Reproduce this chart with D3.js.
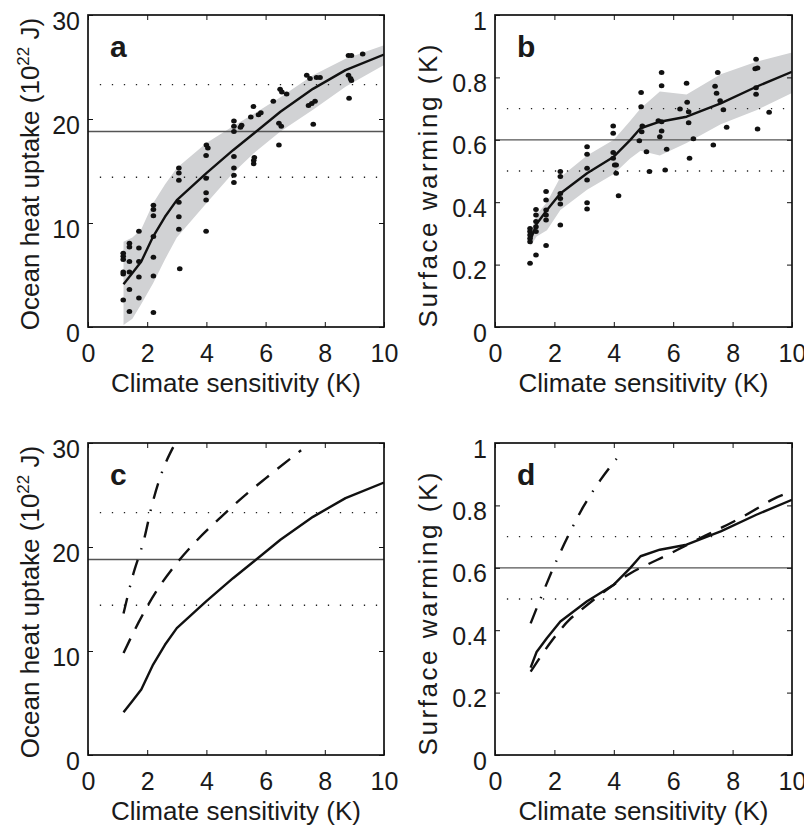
<!DOCTYPE html>
<html>
<head>
<meta charset="utf-8">
<script src="https://cdn.jsdelivr.net/npm/d3@7"></script>
<style>
  body { margin: 0; background: #fff; }
  text { font-family: "Liberation Sans", Arial, Helvetica, sans-serif; fill: #1a1a1a; }
</style>
</head>
<body>
<svg id="fig" width="804" height="825"></svg>
<script>
// tick labels
var xTicks = [0, 2, 4, 6, 8, 10];
var heatTicks = [0, 10, 20, 30];
var warmTicks = [0, 0.2, 0.4, 0.6, 0.8, 1];

// observed value (solid) and its range (dotted)
var heatObs = 18.8, heatObsRange = [14.4, 23.3];
var warmObs = 0.6, warmObsRange = [0.5, 0.7];

// ocean heat uptake: ensemble mean and spread (panels a, c)
var heatX     = [1.2, 1.5, 1.8, 2.2, 2.6, 3.0, 4.0, 4.9, 5.6, 6.5, 7.6, 8.7, 10];
var heatMean  = [4.1, 5.2, 6.3, 8.7, 10.6, 12.2, 14.8, 17.0, 18.6, 20.7, 22.9, 24.7, 26.2];
var heatUpper = [8.2, 8.6, 9.4, 11.9, 13.7, 15.3, 17.7, 19.3, 20.5, 22.1, 24.2, 25.8, 27.1];
var heatLower = [0.2, 0.8, 2.2, 4.2, 6.5, 8.6, 11.9, 14.8, 16.7, 18.8, 20.9, 23.1, 25.2];

// surface warming: ensemble mean and spread (panels b, d)
var warmX     = [1.2, 1.4, 1.75, 2.2, 3.1, 4.0, 4.55, 4.9, 5.55, 6.45, 7.6, 8.8, 10];
var warmMean  = [0.28, 0.33, 0.375, 0.428, 0.493, 0.546, 0.599, 0.637, 0.658, 0.674, 0.717, 0.770, 0.818];
var warmUpper = [0.30, 0.36, 0.40, 0.48, 0.55, 0.60, 0.66, 0.70, 0.755, 0.745, 0.81, 0.85, 0.88];
var warmLower = [0.26, 0.29, 0.31, 0.375, 0.44, 0.49, 0.54, 0.565, 0.55, 0.59, 0.65, 0.695, 0.75];

// individual runs
var heatDots = [
  [1.19, 7.1], [1.19, 6.8], [1.19, 6.5], [1.19, 5.3], [1.19, 5.1], [1.19, 2.6],
  [1.40, 8.05], [1.40, 7.7], [1.40, 6.3], [1.40, 5.3], [1.40, 3.6], [1.40, 1.5],
  [1.72, 9.2], [1.72, 7.6], [1.72, 6.3], [1.72, 4.8], [1.72, 2.8],
  [2.21, 11.7], [2.21, 11.3], [2.21, 10.7], [2.21, 8.7], [2.21, 6.7], [2.21, 4.9], [2.21, 1.4],
  [3.07, 15.3], [3.07, 14.8], [3.07, 14.1], [3.07, 12.0], [3.07, 10.6], [3.07, 9.4], [3.1, 5.6],
  [4.0, 17.5], [4.05, 17.2], [3.99, 16.5], [3.99, 14.3], [3.99, 12.9], [3.99, 12.2], [3.99, 9.2],
  [4.93, 19.8], [4.93, 19.3], [4.93, 18.8], [4.93, 16.4], [4.93, 15.3], [4.93, 14.6], [4.93, 13.9],
  [5.19, 19.4], [5.15, 19.2],
  [5.59, 21.2], [5.5, 20.2], [5.76, 20.4], [5.84, 20.6], [5.62, 16.3], [5.6, 16.0], [5.6, 15.7],
  [6.26, 21.7], [6.49, 22.85], [6.55, 22.6], [6.71, 22.4], [6.45, 19.6], [6.53, 19.3], [6.45, 17.5],
  [7.39, 24.2], [7.5, 23.9], [7.72, 24.0], [7.84, 24.0], [7.45, 21.3], [7.56, 21.5], [7.67, 21.7], [7.61, 19.5],
  [8.8, 26.1], [8.9, 26.1], [8.8, 24.2], [8.87, 23.9], [8.9, 23.7], [8.82, 22.0],
  [9.28, 26.25]
];
var warmDots = [
  [1.18, 0.316], [1.18, 0.306], [1.18, 0.295], [1.18, 0.284], [1.18, 0.273], [1.18, 0.204],
  [1.38, 0.377], [1.38, 0.359], [1.38, 0.338], [1.38, 0.321], [1.38, 0.306], [1.38, 0.231],
  [1.72, 0.434], [1.72, 0.407], [1.72, 0.375], [1.72, 0.359], [1.72, 0.343], [1.72, 0.261],
  [2.2, 0.498], [2.2, 0.482], [2.2, 0.428], [2.2, 0.412], [2.2, 0.394], [2.2, 0.327],
  [3.1, 0.578], [3.1, 0.554], [3.1, 0.509], [3.1, 0.471], [3.1, 0.398], [3.1, 0.378],
  [3.98, 0.644], [3.98, 0.621], [3.98, 0.559], [3.98, 0.541], [4.03, 0.519], [4.08, 0.519], [4.08, 0.493], [4.16, 0.421],
  [4.92, 0.752], [4.92, 0.706], [4.96, 0.644], [4.94, 0.626], [4.86, 0.597], [5.1, 0.562], [5.2, 0.498],
  [5.61, 0.816], [5.61, 0.773], [5.5, 0.661], [5.61, 0.658], [5.61, 0.628], [5.55, 0.610], [5.78, 0.570], [5.73, 0.503],
  [6.23, 0.699], [6.45, 0.781], [6.47, 0.720], [6.52, 0.690], [6.52, 0.655], [6.68, 0.603], [6.55, 0.541],
  [7.5, 0.816], [7.41, 0.772], [7.46, 0.749], [7.58, 0.725], [7.69, 0.696], [7.8, 0.640], [7.35, 0.583],
  [8.79, 0.858], [8.76, 0.828], [8.84, 0.830], [8.79, 0.767], [8.79, 0.746], [8.84, 0.635],
  [9.23, 0.688]
];

// panel c alternatives
var heatDashX  = [1.2, 1.7, 2.3, 3.1, 3.6, 4.5, 5.4, 6.0, 7.2];
var heatDash   = [9.8, 12.7, 15.7, 18.8, 20.4, 22.9, 25.2, 26.6, 29.3];
var heatDotDashX = [1.2, 1.5, 1.9, 2.15, 2.45, 2.95, 3.1];
var heatDotDash  = [13.6, 17.1, 20.8, 23.9, 26.8, 30.0, 30.8];

// panel d alternatives
var warmDashX  = [1.2, 1.85, 2.5, 2.9, 3.9, 4.55, 5.1, 5.8, 6.35, 7.35, 8.25, 9.0, 9.3, 10];
var warmDash   = [0.267, 0.358, 0.433, 0.465, 0.539, 0.582, 0.609, 0.641, 0.668, 0.716, 0.759, 0.80, 0.817, 0.844];
var warmDotDashX = [1.2, 1.57, 2.08, 2.53, 2.97, 3.54, 4.27];
var warmDotDash  = [0.422, 0.51, 0.625, 0.715, 0.795, 0.88, 0.97];

var svg = d3.select("#fig");
svg.append("rect").attr("width", 804).attr("height", 825).attr("fill", "#fff");

var heatLabel = [["Ocean heat uptake (10", 0], ["22", -10], [" J)", 10]];
var warmLabel = [["Surface warming (K)", 0]];

function zipXY(xs, ys) {
  return xs.map(function(v, i) { return [v, ys[i]]; });
}

function drawPanel(p) {
  var g = svg.append("g").attr("transform", "translate(" + p.left + "," + p.top + ")");
  var x = d3.scaleLinear().domain([0, 10]).range([0, p.w]);
  var y = d3.scaleLinear().domain(p.ydom).range([p.h, 0]);

  g.append("clipPath").attr("id", "clip" + p.id)
    .append("rect").attr("width", p.w).attr("height", p.h);
  var plot = g.append("g").attr("clip-path", "url(#clip" + p.id + ")");

  // spread of ensemble
  if (p.band) {
    var area = d3.area()
      .x(function(d) { return x(d[0]); })
      .y0(function(d) { return y(d[1]); })
      .y1(function(d) { return y(d[2]); });
    var bandData = p.band.x.map(function(v, i) { return [v, p.band.lo[i], p.band.hi[i]]; });
    plot.append("path").datum(bandData).attr("d", area).attr("fill", "#d1d2d4");
  }

  // observational range (dotted) and best estimate (solid)
  p.obsRange.forEach(function(v) {
    plot.append("line")
      .attr("x1", x(0.4)).attr("x2", x(9.9))
      .attr("y1", y(v)).attr("y2", y(v))
      .attr("stroke", "#222").attr("stroke-width", 1.3)
      .attr("stroke-dasharray", "1.3,10.7");
  });
  plot.append("line")
    .attr("x1", 0).attr("x2", p.w)
    .attr("y1", y(p.obs)).attr("y2", y(p.obs))
    .attr("stroke", "#555").attr("stroke-width", 1.3);

  p.curves.forEach(function(c) {
    var line = d3.line()
      .x(function(d) { return x(d[0]); })
      .y(function(d) { return y(d[1]); })
      .curve(c.smooth ? d3.curveMonotoneX : d3.curveLinear);
    plot.append("path").datum(c.data)
      .attr("d", line)
      .attr("fill", "none")
      .attr("stroke", "#111")
      .attr("stroke-width", 2.4)
      .attr("stroke-linejoin", "round")
      .attr("stroke-dasharray", c.dash || null);
  });

  if (p.dots) {
    plot.selectAll("ellipse.run").data(p.dots).enter()
      .append("ellipse")
      .attr("cx", function(d) { return x(d[0]); })
      .attr("cy", function(d) { return y(d[1]); })
      .attr("rx", 2.8).attr("ry", 2.5)
      .attr("fill", "#111");
  }

  // axes, ticks pointing in on all four sides
  var bottom = g.append("g").attr("transform", "translate(0," + p.h + ")")
    .call(d3.axisBottom(x).tickValues(xTicks).tickSizeInner(-5).tickSizeOuter(0));
  bottom.selectAll("text").attr("y", 35).attr("dy", null).attr("font-size", 25);

  var left = g.append("g")
    .call(d3.axisLeft(y).tickValues(p.yticks).tickSizeInner(-5).tickSizeOuter(0)
      .tickFormat(function(d) { return String(d); }));
  left.selectAll("text").attr("x", -8).attr("dy", "0.56em").attr("font-size", 25);

  g.append("g").call(d3.axisTop(x).tickValues(xTicks).tickSizeInner(-5).tickSizeOuter(0).tickFormat(""));
  g.append("g").attr("transform", "translate(" + p.w + ",0)")
    .call(d3.axisRight(y).tickValues(p.yticks).tickSizeInner(-5).tickSizeOuter(0).tickFormat(""));

  g.selectAll(".domain").remove();
  g.selectAll(".tick line").attr("stroke", "#111").attr("stroke-width", 1);

  g.append("rect").attr("width", p.w).attr("height", p.h)
    .attr("fill", "none").attr("stroke", "#111").attr("stroke-width", 1.7);

  // panel letter
  g.append("text").attr("x", 22).attr("y", 42)
    .attr("font-size", 30).attr("font-weight", "bold").text(p.id);

  // axis titles
  g.append("text").attr("x", p.w / 2).attr("y", p.h + 65)
    .attr("text-anchor", "middle").attr("font-size", 26)
    .text("Climate sensitivity (K)");

  var yl = g.append("text")
    .attr("transform", "translate(" + p.ylabX + "," + (p.h / 2 + p.ylabDy) + ") rotate(-90)")
    .attr("text-anchor", "middle").attr("font-size", 26);
  if (p.ylabLen) yl.attr("textLength", p.ylabLen).attr("lengthAdjust", "spacing");
  p.ylabel.forEach(function(part, i) {
    yl.append("tspan").attr("dy", part[1])
      .attr("font-size", i === 1 ? 17 : null)
      .text(part[0]);
  });
}

drawPanel({
  id: "a", left: 88, top: 15, w: 296, h: 312, ydom: [0, 30], yticks: heatTicks,
  obs: heatObs, obsRange: heatObsRange, ylabel: heatLabel, ylabX: -49, ylabDy: 3,
  band: { x: heatX, lo: heatLower, hi: heatUpper },
  curves: [{ data: zipXY(heatX, heatMean) }],
  dots: heatDots
});
drawPanel({
  id: "b", left: 495, top: 15, w: 297, h: 312, ydom: [0, 1], yticks: warmTicks,
  obs: warmObs, obsRange: warmObsRange, ylabel: warmLabel, ylabX: -58, ylabLen: 283, ylabDy: 15,
  band: { x: warmX, lo: warmLower, hi: warmUpper },
  curves: [{ data: zipXY(warmX, warmMean) }],
  dots: warmDots
});
drawPanel({
  id: "c", left: 88, top: 443, w: 296, h: 312, ydom: [0, 30], yticks: heatTicks,
  obs: heatObs, obsRange: heatObsRange, ylabel: heatLabel, ylabX: -49, ylabDy: 3,
  curves: [
    { data: zipXY(heatX, heatMean) },
    { data: zipXY(heatDashX, heatDash), dash: "16,11", smooth: true },
    { data: zipXY(heatDotDashX, heatDotDash), dash: "16,11,1.5,11", smooth: true }
  ]
});
drawPanel({
  id: "d", left: 495, top: 443, w: 297, h: 312, ydom: [0, 1], yticks: warmTicks,
  obs: warmObs, obsRange: warmObsRange, ylabel: warmLabel, ylabX: -58, ylabLen: 283, ylabDy: 15,
  curves: [
    { data: zipXY(warmX, warmMean) },
    { data: zipXY(warmDashX, warmDash), dash: "16,11", smooth: true },
    { data: zipXY(warmDotDashX, warmDotDash), dash: "16,11,1.5,11", smooth: true }
  ]
});
</script>
</body>
</html>
